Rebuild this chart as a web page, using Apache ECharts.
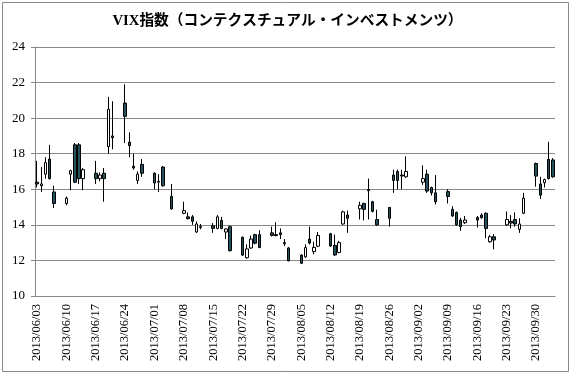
<!DOCTYPE html>
<html lang="ja">
<head>
  <title>VIX指数</title>
  <meta charset="utf-8" />
  <script src="https://cdn.jsdelivr.net/npm/echarts@6/dist/echarts.min.js"></script>
  <style>
    body {
      margin: 0;
      background-color: #fff;
    }
    #main {
      width: 575px;
      height: 376px;
    }
  </style>
</head>
<body>
<div id="main"></div>
<script type="text/javascript">
  // trading days and prices (open, close, low, high)
  let tradeDays = [
    '2013/06/03', '2013/06/04', '2013/06/05', '2013/06/06', '2013/06/07',
    '2013/06/10', '2013/06/11', '2013/06/12', '2013/06/13', '2013/06/14',
    '2013/06/17', '2013/06/18', '2013/06/19', '2013/06/20', '2013/06/21',
    '2013/06/24', '2013/06/25', '2013/06/26', '2013/06/27', '2013/06/28',
    '2013/07/01', '2013/07/02', '2013/07/03', '2013/07/05',
    '2013/07/08', '2013/07/09', '2013/07/10', '2013/07/11', '2013/07/12',
    '2013/07/15', '2013/07/16', '2013/07/17', '2013/07/18', '2013/07/19',
    '2013/07/22', '2013/07/23', '2013/07/24', '2013/07/25', '2013/07/26',
    '2013/07/29', '2013/07/30', '2013/07/31', '2013/08/01', '2013/08/02',
    '2013/08/05', '2013/08/06', '2013/08/07', '2013/08/08', '2013/08/09',
    '2013/08/12', '2013/08/13', '2013/08/14', '2013/08/15', '2013/08/16',
    '2013/08/19', '2013/08/20', '2013/08/21', '2013/08/22', '2013/08/23',
    '2013/08/26', '2013/08/27', '2013/08/28', '2013/08/29', '2013/08/30',
    '2013/09/03', '2013/09/04', '2013/09/05', '2013/09/06',
    '2013/09/09', '2013/09/10', '2013/09/11', '2013/09/12', '2013/09/13',
    '2013/09/16', '2013/09/17', '2013/09/18', '2013/09/19', '2013/09/20',
    '2013/09/23', '2013/09/24', '2013/09/25', '2013/09/26', '2013/09/27',
    '2013/09/30', '2013/10/01', '2013/10/02', '2013/10/03', '2013/10/04'
  ]
  let openVals = [
    16.4, 16.2, 16.85, 17.7, 15.85,
    15.2, 16.85, 18.5, 18.5, 16.6,
    16.9, 16.6, 16.9, 18.4, 19.0,
    20.85, 18.65, 17.3, 16.5, 17.4,
    16.9, 16.4, 17.25, 15.6,
    14.65, 14.45, 14.45, 13.6, 13.9,
    13.95, 13.8, 14.25, 13.6, 13.9,
    13.3, 12.15, 12.7, 13.45, 13.45,
    13.55, 13.45, 13.55, 13.0, 12.7,
    12.3, 12.2, 13.2, 12.5, 12.8,
    13.5, 12.85, 12.45, 14.05, 14.55,
    14.9, 15.2, 15.98, 15.3, 14.3,
    14.98, 16.8, 17.0, 16.8, 16.7,
    16.4, 16.85, 16.1, 15.8,
    15.87, 14.87, 14.7, 14.27, 14.12,
    14.42, 14.55, 14.65, 13.05, 13.33,
    14.0, 14.2, 14.3, 13.75, 14.65,
    17.45, 16.3, 16.37, 17.68, 17.65
  ]
  let closeVals = [
    16.3, 16.3, 17.5, 16.6, 15.2,
    15.5, 17.05, 16.4, 16.6, 17.1,
    16.6, 16.8, 16.6, 20.5, 18.9,
    20.1, 18.45, 17.2, 16.85, 16.9,
    16.35, 16.45, 16.2, 14.9,
    14.8, 14.35, 14.2, 14.05, 13.85,
    13.8, 14.45, 13.8, 13.77, 12.55,
    12.3, 12.65, 13.2, 12.97, 12.72,
    13.4, 13.4, 13.45, 12.94, 11.98,
    11.84, 12.72, 12.98, 12.73, 13.4,
    12.81, 12.31, 13.0, 14.73, 14.37,
    15.1, 14.87, 15.92, 14.76, 14.0,
    14.37, 16.5, 16.5, 16.75, 17.0,
    16.6, 15.9, 15.8, 15.3,
    15.6, 14.5, 14.0, 13.9, 14.27,
    14.27, 14.4, 13.8, 13.33, 13.15,
    14.3, 14.1, 14.05, 14.05, 15.5,
    16.74, 15.67, 16.55, 16.6, 16.7
  ]
  let lowVals = [
    16.1, 15.85, 16.6, 16.55, 14.95,
    15.1, 15.95, 16.35, 16.3, 15.95,
    16.3, 16.45, 15.3, 18.0, 18.25,
    18.6, 17.8, 17.1, 16.3, 16.7,
    16.0, 15.85, 16.15, 14.85,
    14.6, 14.3, 14.0, 13.55, 13.75,
    13.55, 13.75, 13.75, 13.2, 12.5,
    12.25, 12.1, 12.65, 12.9, 12.7,
    13.35, 13.35, 13.2, 12.8, 11.95,
    11.8, 12.15, 12.9, 12.35, 12.75,
    12.75, 12.25, 12.4, 14.0, 13.55,
    14.3, 14.25, 14.3, 14.7, 13.95,
    13.9, 15.8, 16.0, 16.0, 16.65,
    16.25, 15.8, 15.65, 15.15,
    15.2, 14.45, 13.95, 13.67, 14.05,
    13.85, 14.35, 13.25, 13.0, 12.62,
    13.95, 13.8, 13.9, 13.55, 14.6,
    16.15, 15.45, 16.1, 16.55, 16.65
  ]
  let highVals = [
    17.6, 17.25, 17.8, 18.5, 16.2,
    15.6, 17.1, 18.6, 18.6, 17.2,
    17.6, 16.95, 17.2, 21.2, 20.95,
    21.9, 19.2, 18.0, 17.0, 17.7,
    16.95, 16.85, 17.3, 16.3,
    15.3, 14.7, 14.55, 14.2, 14.05,
    14.1, 14.55, 14.45, 13.8, 13.95,
    13.35, 12.9, 13.4, 13.5, 13.7,
    13.9, 14.15, 13.8, 13.2, 12.75,
    12.35, 12.9, 13.9, 13.05, 13.6,
    13.55, 13.45, 13.1, 14.8, 14.8,
    15.3, 15.25, 16.6, 15.35, 14.85,
    15.0, 17.1, 17.1, 17.1, 17.85,
    17.35, 17.1, 16.15, 16.8,
    16.0, 15.05, 14.75, 14.4, 14.5,
    14.5, 14.65, 14.7, 13.43, 13.48,
    14.75, 14.55, 14.7, 14.37, 15.8,
    17.5, 16.7, 16.6, 18.67, 17.75
  ]

  let firstDay = '2013/06/03'
  let lastDay = '2013/10/04'
  let labelStep = 6   // one label per week
  let colorDown = '#23525d'
  let lineColor = '#888888'
  let serifFont = "'Liberation Serif', 'DejaVu Serif', 'Noto Sans CJK JP', serif"

  // calendar days, weekends and holidays stay empty
  function pad(n) {
    return n < 10 ? '0' + n : '' + n
  }
  let calendar = []
  let d = new Date(firstDay.replace(/\//g, '-') + 'T00:00:00Z')
  let end = new Date(lastDay.replace(/\//g, '-') + 'T00:00:00Z')
  while (d <= end) {
    calendar.push(d.getUTCFullYear() + '/' + pad(d.getUTCMonth() + 1) + '/' + pad(d.getUTCDate()))
    d = new Date(d.getTime() + 86400000)
  }

  let candles = calendar.map(function (day) {
    let i = tradeDays.indexOf(day)
    if (i < 0) return '-'
    return [openVals[i], closeVals[i], lowVals[i], highVals[i]]
  })

  let chart = echarts.init(document.getElementById('main'))

  let option = {
    animation: false,
    title: {
      text: 'VIX指数（コンテクスチュアル・インベストメンツ）',
      left: 'center',
      top: 9,
      textStyle: {
        fontFamily: serifFont,
        fontSize: 14.7,
        fontWeight: 'bold',
        color: '#000',
      },
    },
    graphic: [{
      type: 'rect',
      shape: { x: 2.5, y: 2.5, width: 566, height: 369 },
      style: { fill: 'none', stroke: lineColor, lineWidth: 1 },
      silent: true,
    }],
    grid: {
      left: 35,
      right: 20,
      top: 47,
      bottom: 80,
    },
    xAxis: {
      type: 'category',
      data: calendar,
      boundaryGap: true,
      axisLine: { lineStyle: { color: lineColor } },
      axisTick: { show: false },
      axisLabel: {
        interval: labelStep,
        rotate: 90,
        margin: 8,
        fontSize: 12.5,
        fontFamily: serifFont,
        color: '#000',
      },
      splitLine: { show: false },
    },
    yAxis: {
      type: 'value',
      min: 10,
      max: 24,
      interval: 2,
      axisLine: { show: true, lineStyle: { color: lineColor } },
      axisTick: { show: true, length: 4, lineStyle: { color: lineColor } },
      axisLabel: {
        margin: 10,
        fontSize: 13,
        fontFamily: serifFont,
        color: '#000',
      },
      splitLine: { lineStyle: { color: lineColor } },
    },
    series: [{
      type: 'candlestick',
      data: candles,
      barWidth: 3,
      itemStyle: {
        color: '#ffffff',
        color0: colorDown,
        borderColor: '#000000',
        borderColor0: '#000000',
        borderWidth: 1,
      },
    }],
  }

  chart.setOption(option)
</script>
</body>
</html>
